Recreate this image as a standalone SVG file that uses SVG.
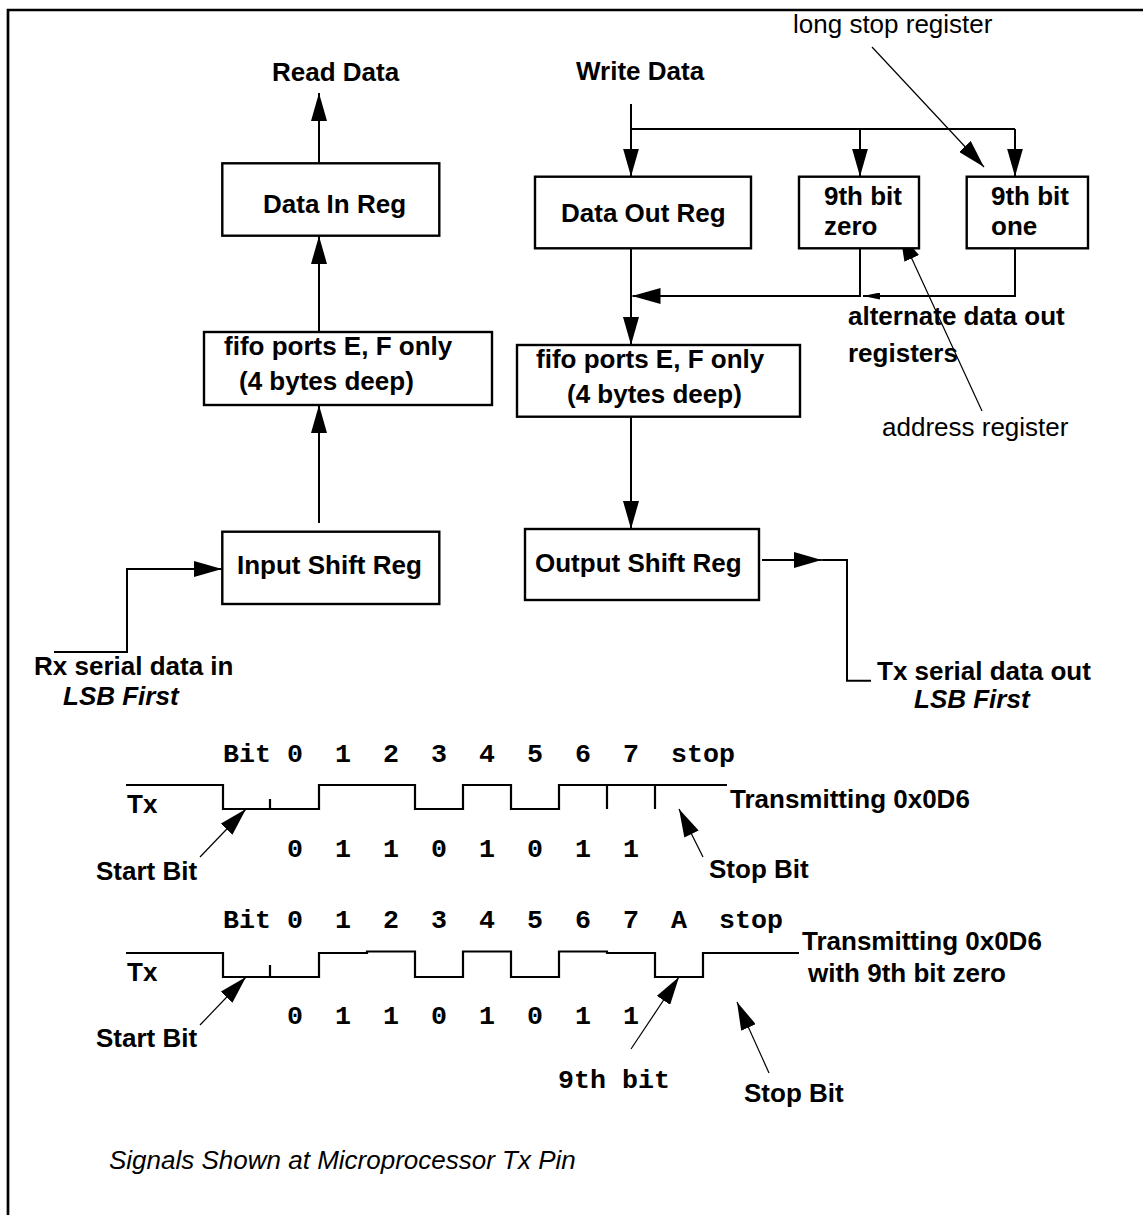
<svg xmlns="http://www.w3.org/2000/svg" width="1143" height="1215" viewBox="0 0 1143 1215">
<style>
.bg{fill:#fff}
.frame{fill:none;stroke:#000;stroke-width:2.7}
.box{fill:#fff;stroke:#000;stroke-width:2.4}
.ln{fill:none;stroke:#000;stroke-width:2}
.thin{fill:none;stroke:#000;stroke-width:1.2}
.wave{fill:none;stroke:#000;stroke-width:2.2}
.lb{font-family:"Liberation Sans",Arial,sans-serif;font-weight:bold;font-size:26px;fill:#000}
.lr{font-family:"Liberation Sans",Arial,sans-serif;font-size:26px;fill:#000}
.lbi{font-family:"Liberation Sans",Arial,sans-serif;font-weight:bold;font-style:italic;font-size:26px;fill:#000}
.li{font-family:"Liberation Sans",Arial,sans-serif;font-style:italic;font-size:26px;fill:#000}
.mono{font-family:"Liberation Mono","Courier New",monospace;font-weight:bold;font-size:26.67px;fill:#000}
</style>
<defs>
<marker id="ah" markerUnits="userSpaceOnUse" viewBox="0 0 28 16" markerWidth="28" markerHeight="16" refX="28" refY="8" orient="auto">
<path d="M0,0 L28,8 L0,16 Z" fill="#000"/>
</marker>
<marker id="ahs" markerUnits="userSpaceOnUse" viewBox="0 0 17 7" markerWidth="17" markerHeight="7" refX="17" refY="3.5" orient="auto">
<path d="M0,0 L17,3.5 L0,7 Z" fill="#000"/>
</marker>
</defs>
<rect class="bg" x="0" y="0" width="1143" height="1215"/>
<path class="frame" d="M8,1215 V10 H1145"/>

<g id="connectors">
<path class="ln" d="M319,163.5 V93" marker-end="url(#ah)"/>
<path class="ln" d="M319,332 V236" marker-end="url(#ah)"/>
<path class="ln" d="M319,523 V405" marker-end="url(#ah)"/>
<path class="ln" d="M54,652 H127 V569 H222" marker-end="url(#ah)"/>
<path class="ln" d="M631,104 V176.5" marker-end="url(#ah)"/>
<path class="ln" d="M631,129 H1015"/>
<path class="ln" d="M860,129 V176.5" marker-end="url(#ah)"/>
<path class="ln" d="M1015,129 V176.5" marker-end="url(#ah)"/>
<path class="ln" d="M1015,248.5 V296 H863" marker-end="url(#ahs)"/>
<path class="ln" d="M860,248.5 V296 H632.5" marker-end="url(#ah)"/>
<path class="ln" d="M631,248.5 V345" marker-end="url(#ah)"/>
<path class="ln" d="M631,416.7 V529" marker-end="url(#ah)"/>
<path class="ln" d="M762,560 H821.7" marker-end="url(#ah)"/>
<path class="ln" d="M821.7,560 H847 V680.7 H871"/>
<path class="thin" d="M872,47 L984,167" marker-end="url(#ah)"/>
<path class="thin" d="M982,411 L900,233" marker-end="url(#ah)"/>
</g>

<g id="labels-top">
<text class="lb" x="272" y="81">Read Data</text>
<text class="lb" x="576" y="80">Write Data</text>
<text class="lr" x="793" y="33">long stop register</text>
<text class="lb" x="848" y="325">alternate data out</text>
<text class="lb" x="848" y="362">registers</text>
<text class="lr" x="882" y="436">address register</text>
<text class="lb" x="34" y="675">Rx serial data in</text>
<text class="lbi" x="63" y="705">LSB First</text>
<text class="lb" x="877" y="680">Tx serial data out</text>
<text class="lbi" x="914" y="708">LSB First</text>
</g>

<g id="data-in-reg">
<rect class="box" x="222.3" y="163.3" width="217" height="72.4"/>
<text class="lb" x="263" y="213">Data In Reg</text>
</g>
<g id="fifo-in">
<rect class="box" x="204" y="332" width="288" height="73"/>
<text class="lb" x="224" y="355">fifo ports E, F only</text>
<text class="lb" x="239" y="390">(4 bytes deep)</text>
</g>
<g id="input-shift-reg">
<rect class="box" x="222.3" y="531.7" width="217" height="72.3"/>
<text class="lb" x="237" y="574">Input Shift Reg</text>
</g>
<g id="data-out-reg">
<rect class="box" x="535" y="176.7" width="216" height="71.6"/>
<text class="lb" x="561" y="222">Data Out Reg</text>
</g>
<g id="ninth-bit-zero">
<rect class="box" x="799" y="176.7" width="120" height="71.6"/>
<text class="lb" x="824" y="205">9th bit</text>
<text class="lb" x="824" y="235">zero</text>
</g>
<g id="ninth-bit-one">
<rect class="box" x="966.7" y="176.7" width="121.3" height="71.6"/>
<text class="lb" x="991" y="205">9th bit</text>
<text class="lb" x="991" y="235">one</text>
</g>
<g id="fifo-out">
<rect class="box" x="517" y="345" width="283" height="71.7"/>
<text class="lb" x="536" y="368">fifo ports E, F only</text>
<text class="lb" x="567" y="403">(4 bytes deep)</text>
</g>
<g id="output-shift-reg">
<rect class="box" x="525" y="529" width="234" height="71"/>
<text class="lb" x="535" y="572">Output Shift Reg</text>
</g>

<g id="waveform-1">
<text class="mono" x="223" y="762" xml:space="preserve">Bit 0  1  2  3  4  5  6  7  stop</text>
<path class="wave" d="M126,785 H223 V809 H319 V785 H415 V809 H463 V785 H511 V809 H559 V785 H727"/>
<path class="wave" d="M270,809 V799 M607,785 V809 M655,785 V809"/>
<text class="lb" x="127" y="813">Tx</text>
<text class="lb" x="730" y="808">Transmitting 0x0D6</text>
<text class="mono" x="287" y="857" xml:space="preserve">0  1  1  0  1  0  1  1</text>
<path class="thin" d="M200,857 L246,809" marker-end="url(#ah)"/>
<path class="thin" d="M703,857 L679,809" marker-end="url(#ah)"/>
<text class="lb" x="96" y="880">Start Bit</text>
<text class="lb" x="709" y="878">Stop Bit</text>
</g>

<g id="waveform-2">
<text class="mono" x="223" y="928" xml:space="preserve">Bit 0  1  2  3  4  5  6  7  A  stop</text>
<path class="wave" d="M126,953 H223 V977 H319 V953 H367 V951.5 H415 V977 H463 V951.5 H511 V977 H559 V951.5 H607 V953 H655 V977 H703 V953 H799"/>
<path class="wave" d="M270,977 V965"/>
<text class="lb" x="127" y="981">Tx</text>
<text class="lb" x="802" y="950">Transmitting 0x0D6</text>
<text class="lb" x="808" y="982">with 9th bit zero</text>
<text class="mono" x="287" y="1024" xml:space="preserve">0  1  1  0  1  0  1  1</text>
<path class="thin" d="M200,1025 L246,977" marker-end="url(#ah)"/>
<path class="thin" d="M631,1049 L679,977" marker-end="url(#ah)"/>
<path class="thin" d="M769,1073 L737,1002" marker-end="url(#ah)"/>
<text class="lb" x="96" y="1047">Start Bit</text>
<text class="mono" x="558" y="1088">9th bit</text>
<text class="lb" x="744" y="1102">Stop Bit</text>
</g>

<text class="li" x="109" y="1169">Signals Shown at Microprocessor Tx Pin</text>
</svg>
